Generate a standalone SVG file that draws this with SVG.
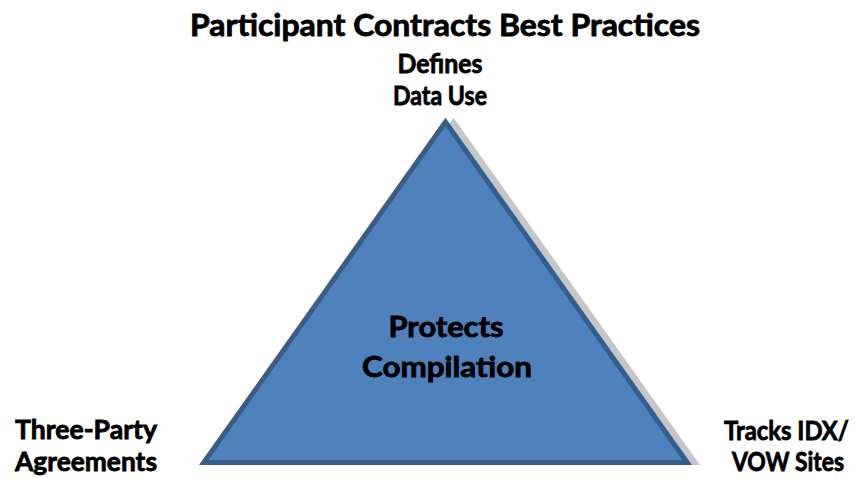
<svg xmlns="http://www.w3.org/2000/svg" width="863" height="478" viewBox="0 0 863 478">
  <style>
    .lbl { font-family: Lato, "Liberation Sans", sans-serif; font-weight: bold; fill: #000; stroke: #000; stroke-width: 0.8; text-anchor: middle; }
    .title { font-size: 30px; }
    .corner { font-size: 27px; }
    .center { font-size: 28px; }
    .tri { fill: #4F81BD; stroke: #385D8A; stroke-width: 5; stroke-linejoin: miter; }
    .tri-shadow { fill: #C6C6C6; stroke: #C6C6C6; stroke-width: 5; stroke-linejoin: miter; }
  </style>
  <rect width="863" height="478" fill="#FFFFFF"/>

  <g id="title">
    <text class="lbl title" x="445" y="36" textLength="510" lengthAdjust="spacingAndGlyphs">Participant Contracts Best Practices</text>
  </g>

  <g id="pyramid">
    <path class="tri-shadow" transform="translate(8,0)" d="M445.5,122 L203.8,462.5 L687.2,462.5 Z"/>
    <path class="tri" d="M445.5,122 L203.8,462.5 L687.2,462.5 Z"/>
    <text class="lbl center" x="446" y="337" textLength="115" lengthAdjust="spacingAndGlyphs">Protects</text>
    <text class="lbl center" x="447" y="377" textLength="170" lengthAdjust="spacingAndGlyphs">Compilation</text>
  </g>

  <g id="top-label">
    <text class="lbl corner" x="440" y="73" textLength="85" lengthAdjust="spacingAndGlyphs">Defines</text>
    <text class="lbl corner" x="440" y="105" textLength="94" lengthAdjust="spacingAndGlyphs">Data Use</text>
  </g>

  <g id="left-label">
    <text class="lbl corner" x="86" y="439" textLength="142" lengthAdjust="spacingAndGlyphs">Three-Party</text>
    <text class="lbl corner" x="86" y="471" textLength="142" lengthAdjust="spacingAndGlyphs">Agreements</text>
  </g>

  <g id="right-label">
    <text class="lbl corner" x="786.5" y="440" textLength="125" lengthAdjust="spacingAndGlyphs">Tracks IDX/</text>
    <text class="lbl corner" x="788" y="471" textLength="112" lengthAdjust="spacingAndGlyphs">VOW Sites</text>
  </g>

  <g id="connectors"/>
</svg>
